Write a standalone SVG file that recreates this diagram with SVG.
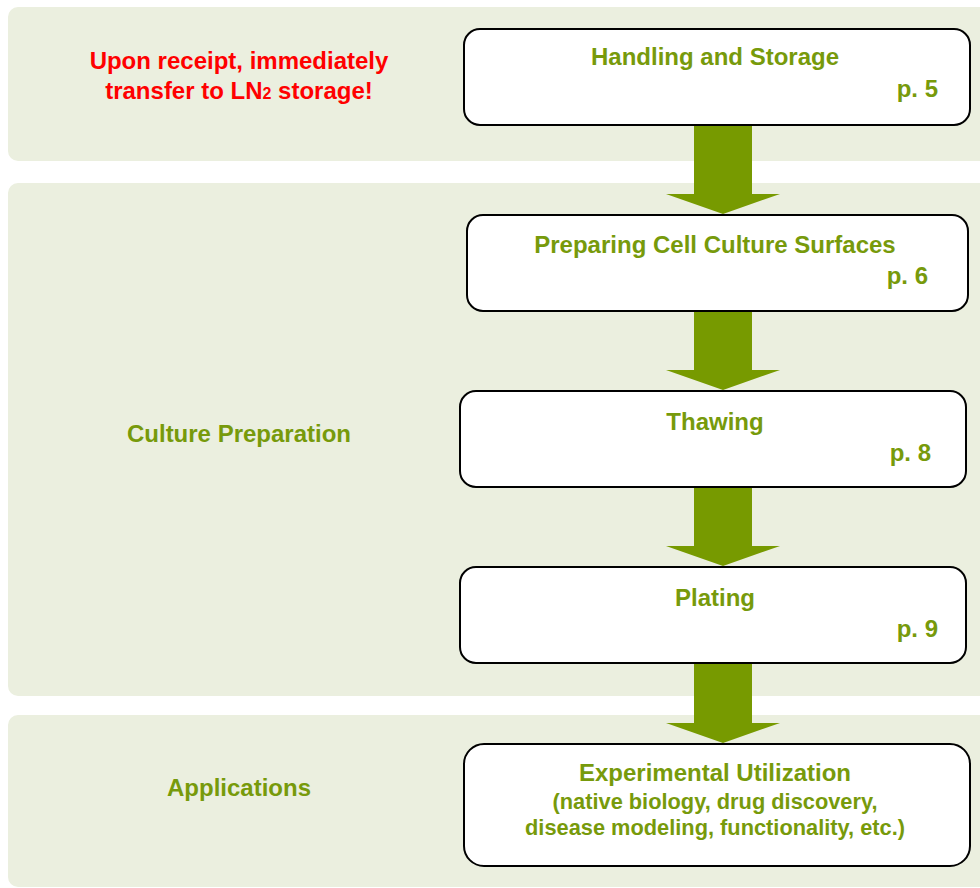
<svg xmlns="http://www.w3.org/2000/svg" width="980" height="888" viewBox="0 0 980 888">
<defs>
<style>
.band{fill:#ebefdf;}
.box{fill:#ffffff;stroke:#000000;stroke-width:2;}
.arrow{fill:#779a00;}
text{font-family:"Liberation Sans",Arial,sans-serif;font-weight:bold;}
.h{fill:#779a0b;font-size:24px;text-anchor:middle;}
.p{fill:#779a0b;font-size:24px;text-anchor:end;}
.s{fill:#779a0b;font-size:21.8px;text-anchor:middle;}
.red{fill:#ff0000;font-size:24px;text-anchor:middle;}
</style>
</defs>
<rect width="980" height="888" fill="#ffffff"/>
<g id="bands">
<rect class="band" x="8" y="7" width="990" height="154" rx="10"/>
<rect class="band" x="8" y="183" width="990" height="513" rx="10"/>
<rect class="band" x="8" y="715" width="990" height="172" rx="10"/>
</g>
<g id="labels">
<text class="red" x="239" y="69">Upon receipt, immediately</text>
<text class="red" x="239" y="99">transfer to LN<tspan font-size="16px">2</tspan> storage!</text>
<text class="h" x="239" y="442">Culture Preparation</text>
<text class="h" x="239" y="796">Applications</text>
</g>
<g id="connectors">
<polygon class="arrow" points="694,126 752,126 752,194 780,194 723,214 666,194 694,194"/>
<polygon class="arrow" points="694,312 752,312 752,370 780,370 723,390 666,370 694,370"/>
<polygon class="arrow" points="694,488 752,488 752,546 780,546 723,566 666,546 694,546"/>
<polygon class="arrow" points="694,664 752,664 752,723 780,723 723,743 666,723 694,723"/>
</g>
<g id="node-handling">
<rect class="box" x="464" y="29" width="506" height="96" rx="16"/>
<text class="h" x="715" y="65">Handling and Storage</text>
<text class="p" x="938" y="97">p. 5</text>
</g>
<g id="node-preparing">
<rect class="box" x="467" y="215" width="501" height="96" rx="16"/>
<text class="h" x="715" y="253">Preparing Cell Culture Surfaces</text>
<text class="p" x="928" y="284">p. 6</text>
</g>
<g id="node-thawing">
<rect class="box" x="460" y="391" width="506" height="96" rx="16"/>
<text class="h" x="715" y="430">Thawing</text>
<text class="p" x="931" y="461">p. 8</text>
</g>
<g id="node-plating">
<rect class="box" x="460" y="567" width="506" height="96" rx="16"/>
<text class="h" x="715" y="606">Plating</text>
<text class="p" x="938" y="637">p. 9</text>
</g>
<g id="node-experimental">
<rect class="box" x="464" y="744" width="506" height="122" rx="20"/>
<text class="h" x="715" y="781">Experimental Utilization</text>
<text class="s" x="715" y="809">(native biology, drug discovery,</text>
<text class="s" x="715" y="835">disease modeling, functionality, etc.)</text>
</g>
</svg>
